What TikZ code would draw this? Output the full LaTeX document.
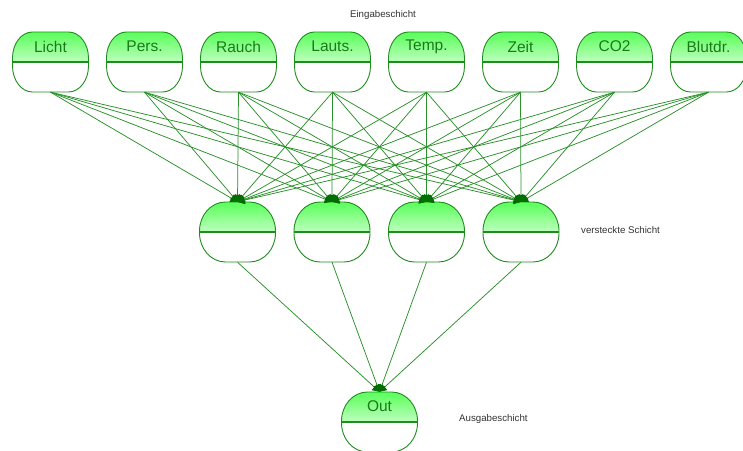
\documentclass[tikz,border=0pt]{standalone}
\usepackage{fontspec}
\setmainfont{Liberation Sans}
\usetikzlibrary{arrows.meta}
\definecolor{nborder}{HTML}{1E8C1E}
\definecolor{ntop}{HTML}{5AFF5A}
\definecolor{nmid}{HTML}{BEFFBE}
\definecolor{ntext}{HTML}{1A7A1A}
\definecolor{wire}{HTML}{2A902A}
\definecolor{tipc}{HTML}{006E00}
\definecolor{layertext}{HTML}{333333}
\tikzset{
  cellbox/.style={rectangle, minimum width=76pt, minimum height=60pt, inner sep=0pt},
  ntitle/.style={text=ntext, font=\fontsize{15.5}{18}\selectfont, inner sep=0pt},
  layer/.style={text=layertext, font=\fontsize{9.7}{11}\selectfont, inner sep=0pt},
  wire/.style={draw=wire, line width=0.75pt,
    -{Triangle[length=7pt, width=8pt, color=tipc]}},
}
% outline of a cell: rectangle 76 x 60 with elliptical corners (rx, ry)
\newcommand\cellgeom[4]{%
  \pgfmathsetmacro\xl{#1-38}\pgfmathsetmacro\xr{#1+38}%
  \pgfmathsetmacro\yt{#2-30}\pgfmathsetmacro\yb{#2+30}%
  \pgfmathsetmacro\ax{\xl+#3}\pgfmathsetmacro\bx{\xr-#3}%
  \pgfmathsetmacro\ay{\yt+#4}\pgfmathsetmacro\by{\yb-#4}%
  \pgfmathsetmacro\kx{0.5523*#3}\pgfmathsetmacro\ky{0.5523*#4}%
}
\newcommand\celloutline[1]{%
  \path[#1] (\ax,\yt) -- (\bx,\yt)
    .. controls (\bx+\kx,\yt) and (\xr,\ay-\ky) .. (\xr,\ay) -- (\xr,\by)
    .. controls (\xr,\by+\ky) and (\bx+\kx,\yb) .. (\bx,\yb) -- (\ax,\yb)
    .. controls (\ax-\kx,\yb) and (\xl,\by+\ky) .. (\xl,\by) -- (\xl,\ay)
    .. controls (\xl,\ay-\ky) and (\ax-\kx,\yt) .. cycle;}
% cell: name, x, y, rx, ry  (upper half shaded, lower half white)
\newcommand\cell[5]{%
  \node[cellbox] (#1) at (#2,#3) {};
  \cellgeom{#2}{#3}{#4}{#5}%
  \celloutline{fill=white}
  \begin{scope}
    \celloutline{clip}
    \shade[top color=ntop, bottom color=nmid] (\xl,\yt) rectangle (\xr,#3);
    \draw[nborder, line width=1.4pt] (\xl,#3) -- (\xr,#3);
  \end{scope}
  \celloutline{draw=nborder, line width=0.9pt}
}
\begin{document}
\begin{tikzpicture}[x=1pt, y=-1pt]
\useasboundingbox (0,0) rectangle (743,450);

% input layer
\foreach \n/\x/\t in {1/50.5/Licht, 2/144.5/Pers., 3/238.5/Rauch, 4/332.5/Lauts.,
                       5/426.5/Temp., 6/520.5/Zeit, 7/614.5/CO2, 8/708.5/Blutdr.}{
  \cell{in\n}{\x}{62}{20}{26}
  \node[ntitle] (in\n-t) at (\x,46.5) {\t};
}

% hidden layer
\foreach \n/\x in {1/237.5, 2/332, 3/426.5, 4/521}{
  \cell{hid\n}{\x}{232}{26}{29}
}

% output layer
\cell{out}{379.5}{422}{26}{29}
\node[ntitle] (out-t) at (379.5,406) {Out};

% layer captions
\node[layer] (capin) at (383,15) {Eingabeschicht};
\node[layer, anchor=west] (caphid) at (581,230) {versteckte Schicht};
\node[layer, anchor=west] (capout) at (459,419) {Ausgabeschicht};

% connections
\foreach \i in {1,...,8}
  \foreach \h in {1,...,4}
    \draw[wire] (in\i.south) -- (hid\h.north);
\foreach \h in {1,...,4}
  \draw[wire] (hid\h.south) -- (out.north);
\end{tikzpicture}
\end{document}
